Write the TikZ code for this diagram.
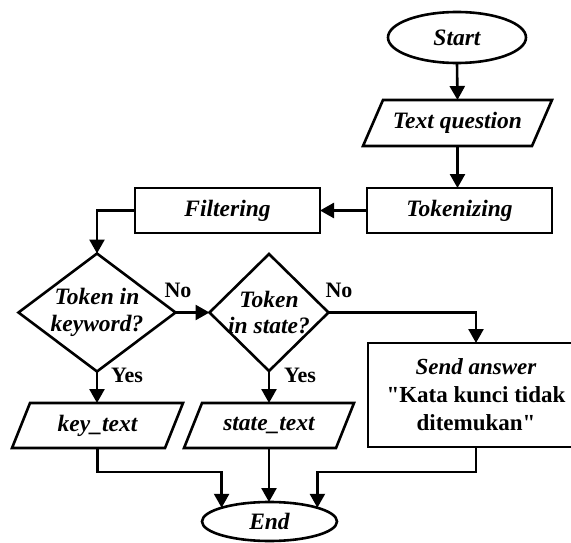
\documentclass[tikz,border=0pt]{standalone}
\usepackage{fontspec}
\setmainfont{Liberation Serif}[Ligatures=TeXOff]
\usetikzlibrary{arrows.meta,shapes.geometric,calc}

\begin{document}
\begin{tikzpicture}[x=1pt,y=-1pt,
  lw/.style={line width=2.6pt},
  txt/.style={font=\fontsize{23.5}{26.5}\selectfont\bfseries\itshape,
    inner sep=0pt, outer sep=0pt, align=center},
  term/.style={txt, ellipse, draw, lw},
  proc/.style={txt, rectangle, draw, lw},
  frame/.style={txt, rectangle, draw=none},
  outline/.style={lw, line join=miter},
  arr/.style={lw, -{Triangle[length=14pt,width=15pt]}},
  lab/.style={font=\fontsize{22}{24}\selectfont\bfseries, inner sep=0pt},
]
\clip (0,0) rectangle (571,543);

% terminals, processes and decisions
\node[term, minimum width=138pt, minimum height=51pt] (st) at (457,37.5) {Start};
\node[frame, minimum width=189pt, minimum height=46pt] (tq) at (457.5,123) {Text question};
\node[proc, minimum width=185pt, minimum height=45pt] (tok) at (459.5,210.5) {Tokenizing};
\node[proc, minimum width=185pt, minimum height=45pt] (fil) at (227.5,210.5) {Filtering};
\node[frame, minimum width=157pt, minimum height=118pt] (d1) at (97,312.5) {Token in\\keyword?};
\node[frame, minimum width=119pt, minimum height=117pt] (d2) at (269,312.5) {Token\\in state?};
\node[frame, minimum width=171pt, minimum height=45pt] (kt) at (97.5,425.5) {key\_text};
\node[frame, minimum width=170pt, minimum height=45pt] (stt) at (269,425.5) {state\_text};
\node[proc, font=\fontsize{23}{28}\selectfont\bfseries,
      minimum width=216pt, minimum height=104pt] (sa) at (476,395)
      {{\itshape Send answer}\\"Kata kunci tidak\\ditemukan"};
\node[term, minimum width=135pt, minimum height=39pt] (en) at (269.5,521.5) {End};

% input/output parallelograms
\draw[outline] ([xshift=20pt]tq.north west) -- (tq.north east)
  -- ([xshift=-20pt]tq.south east) -- (tq.south west) -- cycle;
\draw[outline] ([xshift=18pt]kt.north west) -- (kt.north east)
  -- ([xshift=-18pt]kt.south east) -- (kt.south west) -- cycle;
\draw[outline] ([xshift=18pt]stt.north west) -- (stt.north east)
  -- ([xshift=-18pt]stt.south east) -- (stt.south west) -- cycle;

% decision diamonds
\draw[outline] (d1.north) -- (d1.east) -- (d1.south) -- (d1.west) -- cycle;
\draw[outline] (d2.north) -- (d2.east) -- (d2.south) -- (d2.west) -- cycle;

% flow
\draw[arr] (st.south) -- (tq.north);
\draw[arr] (tq.south) -- (tq.south |- tok.north);
\draw[arr] (tok.west) -- (fil.east);
\draw[arr] (fil.west) -| (d1.north);
\draw[arr] (d1.east) -- (d2.west);
\draw[arr] (d2.east) -| (sa.north);
\draw[arr] (d1.south) -- (d1.south |- kt.north);
\draw[arr] (d2.south) -- (stt.north);
\draw[arr] (kt.south) -- ++(0,24) -| (en.164);
\draw[arr] (stt.south) -- (stt.south |- en.north);
\draw[arr] (sa.south) -- ++(0,25) -| (en.16);

% branch labels
\node[lab] (no1) at (178,290) {No};
\node[lab] (no2) at (339,290) {No};
\node[lab] (y1) at (127,375) {Yes};
\node[lab] (y2) at (300,375) {Yes};
\end{tikzpicture}
\end{document}
